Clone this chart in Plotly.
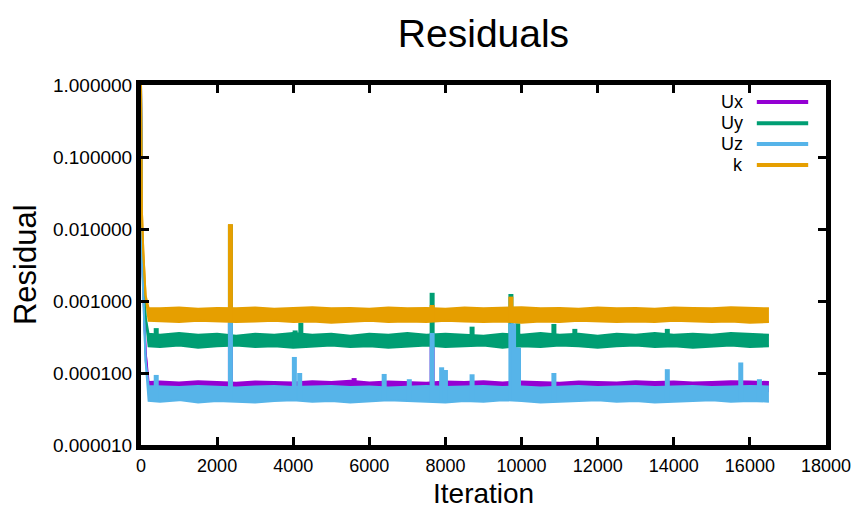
import numpy as np
import plotly.graph_objects as go

# ---------------- data ----------------
X_GRID = [0, 20, 60, 120, 200, 500, 1000, 1500, 2000, 2500, 3000, 3500, 4000,
          4500, 5000, 5500, 6000, 6500, 7000, 7500, 8000, 8500, 9000, 9500,
          10000, 10500, 11000, 11500, 12000, 12500, 13000, 13500, 14000,
          14500, 15000, 15500, 16000, 16500]

# upper / lower edges of each noisy residual band
UX_HI = [1.0, 0.006, 0.0015, 0.0002, 7.5e-5, 7.6e-5, 7.4e-5, 7.7e-5, 7.5e-5,
         7.3e-5, 7.6e-5, 7.5e-5, 7.4e-5, 7.7e-5, 7.5e-5, 7.8e-5, 7.4e-5,
         7.6e-5, 7.5e-5, 7.3e-5, 7.6e-5, 7.5e-5, 7.7e-5, 7.4e-5, 7.6e-5,
         7.5e-5, 7.3e-5, 7.6e-5, 7.5e-5, 7.4e-5, 7.7e-5, 7.5e-5, 7.6e-5,
         7.4e-5, 7.5e-5, 7.7e-5, 7.6e-5, 7.5e-5]
UX_LO = [1.0, 0.006, 0.0015, 0.0002, 5.7e-5, 5.6e-5, 5.8e-5, 5.6e-5, 5.7e-5,
         5.5e-5, 5.7e-5, 5.6e-5, 5.8e-5, 5.6e-5, 5.7e-5, 5.5e-5, 5.7e-5,
         5.6e-5, 5.8e-5, 5.6e-5, 5.7e-5, 5.5e-5, 5.7e-5, 5.6e-5, 5.8e-5,
         5.6e-5, 5.7e-5, 5.5e-5, 5.7e-5, 5.6e-5, 5.8e-5, 5.6e-5, 5.7e-5,
         5.5e-5, 5.7e-5, 5.6e-5, 5.8e-5, 5.6e-5]

UY_HI = [1.0, 0.012, 0.003, 0.0006, 3.5e-4, 3.4e-4, 3.6e-4, 3.4e-4, 3.5e-4,
         3.3e-4, 3.5e-4, 3.4e-4, 3.6e-4, 3.4e-4, 3.5e-4, 3.3e-4, 3.5e-4,
         3.4e-4, 3.6e-4, 3.4e-4, 3.5e-4, 3.4e-4, 3.3e-4, 3.5e-4, 3.4e-4,
         3.6e-4, 3.4e-4, 3.5e-4, 3.3e-4, 3.5e-4, 3.4e-4, 3.6e-4, 3.4e-4,
         3.5e-4, 3.4e-4, 3.6e-4, 3.5e-4, 3.4e-4]
UY_LO = [1.0, 0.012, 0.003, 0.0006, 2.35e-4, 2.3e-4, 2.4e-4, 2.25e-4, 2.35e-4,
         2.4e-4, 2.3e-4, 2.35e-4, 2.25e-4, 2.35e-4, 2.4e-4, 2.3e-4, 2.35e-4,
         2.25e-4, 2.35e-4, 2.4e-4, 2.3e-4, 2.35e-4, 2.4e-4, 2.25e-4, 2.35e-4,
         2.3e-4, 2.4e-4, 2.35e-4, 2.25e-4, 2.35e-4, 2.4e-4, 2.3e-4, 2.35e-4,
         2.25e-4, 2.35e-4, 2.4e-4, 2.3e-4, 2.35e-4]

UZ_HI = [1.0, 0.005, 0.0012, 0.00015, 6.6e-5, 6.5e-5, 6.4e-5, 6.6e-5, 6.5e-5,
         6.3e-5, 6.5e-5, 6.6e-5, 6.4e-5, 6.5e-5, 6.6e-5, 6.4e-5, 6.5e-5,
         6.3e-5, 6.5e-5, 6.6e-5, 6.4e-5, 6.5e-5, 6.6e-5, 6.4e-5, 6.5e-5,
         6.3e-5, 6.5e-5, 6.6e-5, 6.4e-5, 6.5e-5, 6.6e-5, 6.4e-5, 6.5e-5,
         6.6e-5, 6.4e-5, 6.5e-5, 6.6e-5, 6.5e-5]
UZ_LO = [1.0, 0.005, 0.0012, 0.00015, 4.1e-5, 4.0e-5, 4.2e-5, 3.9e-5, 4.1e-5,
         4.0e-5, 3.9e-5, 4.1e-5, 4.2e-5, 4.0e-5, 4.1e-5, 3.9e-5, 4.0e-5,
         4.2e-5, 4.1e-5, 4.0e-5, 3.9e-5, 4.1e-5, 4.0e-5, 4.2e-5, 4.1e-5,
         3.9e-5, 4.0e-5, 4.1e-5, 4.2e-5, 4.0e-5, 4.1e-5, 3.9e-5, 4.0e-5,
         4.1e-5, 4.2e-5, 4.0e-5, 4.1e-5, 4.0e-5]

K_HI = [1.0, 0.02, 0.005, 0.0012, 8.0e-4, 7.9e-4, 8.1e-4, 7.8e-4, 8.0e-4,
        7.9e-4, 8.1e-4, 7.8e-4, 8.0e-4, 8.2e-4, 7.9e-4, 8.0e-4, 7.8e-4,
        8.1e-4, 7.9e-4, 8.0e-4, 7.8e-4, 8.1e-4, 7.9e-4, 8.0e-4, 8.2e-4,
        7.9e-4, 8.0e-4, 7.8e-4, 8.1e-4, 7.9e-4, 8.0e-4, 7.8e-4, 8.1e-4,
        8.0e-4, 7.9e-4, 8.2e-4, 8.0e-4, 7.9e-4]
K_LO = [1.0, 0.02, 0.005, 0.0012, 5.3e-4, 5.2e-4, 5.1e-4, 5.3e-4, 5.2e-4,
        5.1e-4, 5.2e-4, 5.3e-4, 5.1e-4, 5.2e-4, 5.0e-4, 5.2e-4, 5.3e-4,
        5.1e-4, 5.2e-4, 5.1e-4, 5.3e-4, 5.2e-4, 5.1e-4, 5.2e-4, 5.0e-4,
        5.2e-4, 5.1e-4, 5.3e-4, 5.2e-4, 5.1e-4, 5.2e-4, 5.1e-4, 5.3e-4,
        5.2e-4, 5.1e-4, 5.2e-4, 5.0e-4, 5.1e-4]

# isolated spikes (iteration, peak residual)
UX_SPIKE_X = [2350, 5600, 7650, 9760]
UX_SPIKE_Y = [5.0e-4, 8.5e-5, 3.5e-4, 4.8e-4]
UY_SPIKE_X = [400, 2350, 4050, 4200, 7650, 8700, 9720, 9900, 10850, 11400, 13830]
UY_SPIKE_Y = [4.2e-4, 0.0115, 3.9e-4, 5.0e-4, 0.0013, 4.4e-4, 0.00125, 4.9e-4,
              4.8e-4, 4.1e-4, 4.1e-4]
UZ_SPIKE_X = [400, 2350, 4030, 4170, 6390, 7050, 7650, 7900, 8000, 8700, 9720,
              9790, 9860, 9920, 10850, 13830, 15760, 16250]
UZ_SPIKE_Y = [9.4e-5, 5.1e-4, 1.67e-4, 1.0e-4, 9.7e-5, 8.2e-5, 3.6e-4, 1.2e-4,
              1.1e-4, 9.6e-5, 4.9e-4, 4.9e-4, 2.25e-4, 2.25e-4, 1.0e-4, 1.13e-4,
              1.4e-4, 8.2e-5]
K_SPIKE_X = [2350, 7650, 9720]
K_SPIKE_Y = [0.0117, 0.00088, 0.00115]

SERIES = ["Ux", "Uy", "Uz", "k"]
COLORS = ["#9400d3", "#009e73", "#56b4e9", "#e69f00"]

Y_TICKS = [1.0, 0.1, 0.01, 0.001, 0.0001, 0.00001]
Y_TICKTEXT = ["1.000000", "0.100000", "0.010000", "0.001000", "0.000100", "0.000010"]

FONT = "Liberation Sans, Arial, sans-serif"

# ---------------- figure ----------------
fig = go.Figure()


def spikes(sx, sy, lo):
    xs, ys = [], []
    for x, p in zip(sx, sy):
        base = float(np.interp(x, X_GRID, lo))
        xs += [x, x, None]
        ys += [base, p, None]
    return xs, ys


bands = [(UX_LO, UX_HI, UX_SPIKE_X, UX_SPIKE_Y),
         (UY_LO, UY_HI, UY_SPIKE_X, UY_SPIKE_Y),
         (UZ_LO, UZ_HI, UZ_SPIKE_X, UZ_SPIKE_Y),
         (K_LO, K_HI, K_SPIKE_X, K_SPIKE_Y)]

for name, col, (lo, hi, sx, sy) in zip(SERIES, COLORS, bands):
    fig.add_trace(go.Scatter(x=X_GRID, y=lo, mode="lines", name=name,
                             line=dict(color=col, width=2), showlegend=False,
                             hoverinfo="skip"))
    fig.add_trace(go.Scatter(x=X_GRID, y=hi, mode="lines", name=name,
                             line=dict(color=col, width=2), fill="tonexty",
                             fillcolor=col, showlegend=False))
    spx, spy = spikes(sx, sy, lo)
    fig.add_trace(go.Scatter(x=spx, y=spy, mode="lines", name=name,
                             line=dict(color=col, width=5), showlegend=False,
                             hoverinfo="skip"))

# gnuplot-style key: right-aligned text, sample line to the right
key_y = [0.953, 0.894, 0.836, 0.778]
for name, col, ky in zip(SERIES, COLORS, key_y):
    fig.add_annotation(x=0.882, y=ky, xref="paper", yref="paper", text=name,
                       showarrow=False, xanchor="right", yanchor="middle",
                       font=dict(family=FONT, size=18, color="black"))
    fig.add_shape(type="line", xref="paper", yref="paper", x0=0.899, x1=0.974,
                  y0=ky, y1=ky, line=dict(color=col, width=4))

# axis titles
fig.add_annotation(x=0.5, y=-0.1833, xref="paper", yref="paper",
                   text="Iteration", showarrow=False,
                   xanchor="center", yanchor="bottom",
                   font=dict(family=FONT, size=28, color="black"))
fig.add_annotation(x=-0.1693, y=0.5, xref="paper", yref="paper",
                   text="Residual", showarrow=False, textangle=-90,
                   xanchor="center", yanchor="middle",
                   font=dict(family=FONT, size=31, color="black"))

fig.update_layout(
    width=861, height=511,
    margin=dict(l=141, r=35, t=85, b=66),
    paper_bgcolor="white", plot_bgcolor="white",
    font=dict(family=FONT, color="black"),
    title=dict(text="Residuals", x=0.5, xref="paper", y=1 - 33 / 511,
               yref="container", xanchor="center", yanchor="middle",
               font=dict(family=FONT, size=39, color="black")),
    showlegend=False,
)

fig.update_xaxes(
    range=[0, 18000], tickmode="linear", tick0=0, dtick=2000, tickformat="d",
    showgrid=False, zeroline=False,
    showline=True, linewidth=5, linecolor="black", mirror="allticks",
    ticks="inside", ticklen=8, tickwidth=2.5, tickcolor="black",
    tickfont=dict(family=FONT, size=18, color="black"),
    automargin=False,
)
fig.update_yaxes(
    type="log", range=[-5, 0], tickmode="array", tickvals=Y_TICKS,
    ticktext=Y_TICKTEXT,
    showgrid=False, zeroline=False,
    showline=True, linewidth=5, linecolor="black", mirror="allticks",
    ticks="inside", ticklen=8, tickwidth=2.5, tickcolor="black",
    tickfont=dict(family=FONT, size=19, color="black"),
    automargin=False,
)

fig.write_html("out.html",
               config={"displayModeBar": False},
               post_script="document.body.style.margin='0';"
                           "document.body.style.overflow='hidden';")
